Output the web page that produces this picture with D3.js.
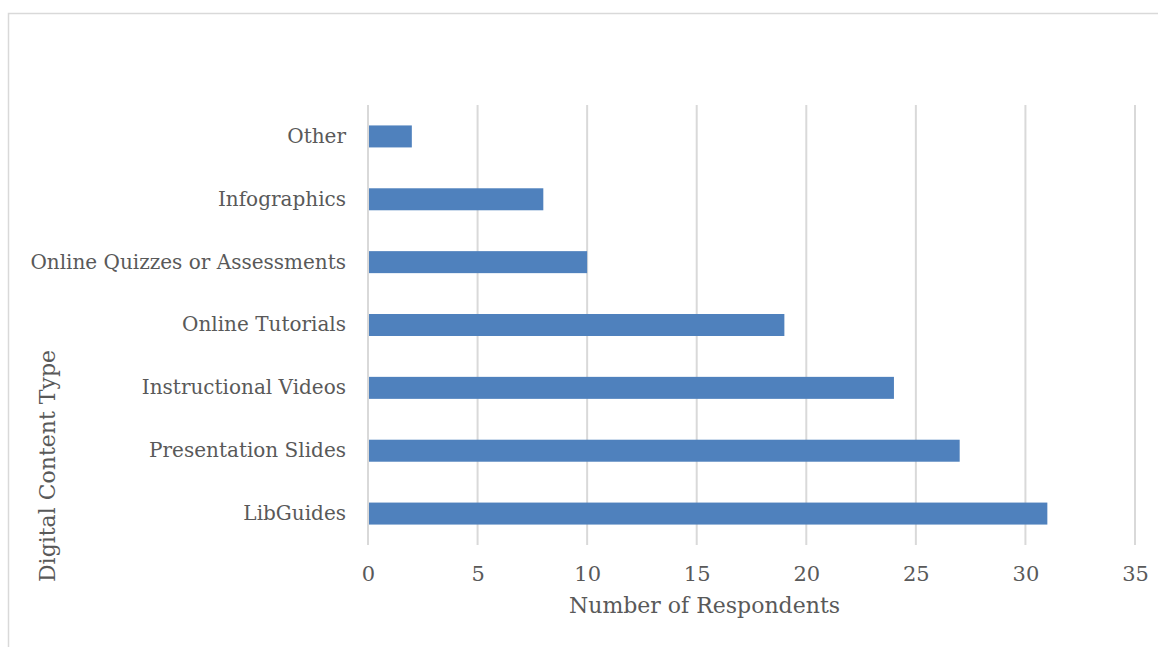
<!DOCTYPE html>
<html>
<head>
<meta charset="utf-8">
<title>Digital content type</title>
<script src="https://d3js.org/d3.v7.min.js"></script>
<style>
  body { margin: 0; background: #fff; }
  text { font-family: "DejaVu Serif", "Liberation Serif", serif; fill: #595959; }
</style>
</head>
<body>
<div id="wrapper"></div>
<script>
const categories = ["LibGuides", "Presentation Slides", "Instructional Videos", "Online Tutorials",
  "Online Quizzes or Assessments", "Infographics", "Other"];
const respondents = [31, 27, 24, 19, 10, 8, 2];
const xTicks = [0, 5, 10, 15, 20, 25, 30, 35];

const data = categories.map((c, i) => ({ type: c, count: respondents[i] }));

const dimensions = {
  width: 1158,
  height: 647,
  margin: { top: 105, right: 23, bottom: 102, left: 368 }
};
dimensions.boundedWidth = dimensions.width - dimensions.margin.left - dimensions.margin.right;
dimensions.boundedHeight = dimensions.height - dimensions.margin.top - dimensions.margin.bottom;

const wrapper = d3.select("#wrapper").append("svg")
  .attr("width", dimensions.width)
  .attr("height", dimensions.height);

// chart frame
wrapper.append("rect")
  .attr("x", 8.5).attr("y", 13.5)
  .attr("width", 1160).attr("height", 650)
  .attr("fill", "none").attr("stroke", "#d9d9d9").attr("stroke-width", 1.5);

const bounds = wrapper.append("g")
  .attr("transform", `translate(${dimensions.margin.left},${dimensions.margin.top})`);

const xScale = d3.scaleLinear().domain([0, 35]).range([0, dimensions.boundedWidth]);
const yScale = d3.scaleBand().domain(categories.slice().reverse())
  .range([0, dimensions.boundedHeight]).paddingInner(0.65).paddingOuter(0.325);

// gridlines
bounds.append("g").selectAll("line").data(xTicks).join("line")
  .attr("x1", d => xScale(d)).attr("x2", d => xScale(d))
  .attr("y1", 0).attr("y2", dimensions.boundedHeight)
  .attr("stroke", "#d9d9d9").attr("stroke-width", 2);

// bars
bounds.append("g").selectAll("rect").data(data).join("rect")
  .attr("x", xScale(0) + 1)
  .attr("y", d => yScale(d.type))
  .attr("width", d => xScale(d.count) - xScale(0) - 1)
  .attr("height", yScale.bandwidth())
  .attr("fill", "#4f81bd");

// x axis labels
const xAxis = bounds.append("g")
  .attr("transform", `translate(0,${dimensions.boundedHeight})`)
  .call(d3.axisBottom(xScale).tickValues(xTicks).tickSize(0).tickPadding(21));
xAxis.select(".domain").remove();
xAxis.selectAll("text").style("font-size", "21px").attr("fill", "#595959");

// y axis labels
const yAxis = bounds.append("g")
  .call(d3.axisLeft(yScale).tickSize(0).tickPadding(22));
yAxis.select(".domain").remove();
yAxis.selectAll("text").style("font-size", "20px").attr("fill", "#595959");

// axis titles
wrapper.append("text")
  .attr("x", dimensions.margin.left + dimensions.boundedWidth / 2 - 47)
  .attr("y", 613)
  .attr("text-anchor", "middle")
  .style("font-size", "22px")
  .text("Number of Respondents");

wrapper.append("text")
  .attr("transform", "translate(55,466) rotate(-90)")
  .attr("text-anchor", "middle")
  .style("font-size", "22px")
  .text("Digital Content Type");
</script>
</body>
</html>
